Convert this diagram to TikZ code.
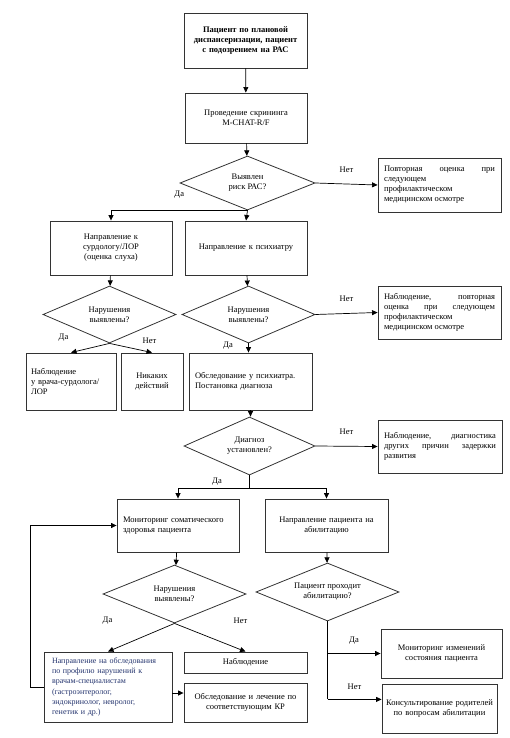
\documentclass[tikz,border=0pt]{standalone}
\usepackage{fontspec}
\setmainfont{Liberation Serif}
\usetikzlibrary{shapes.geometric,arrows.meta,positioning,calc}

\begin{document}
\begin{tikzpicture}[x=1pt,y=-1pt,
  every node/.style={font=\fontsize{8.5}{10}\selectfont},
  box/.style={rectangle,draw=black!80,line width=0.9pt,inner sep=4pt},
  dia/.style={diamond,aspect=2.5,draw=black!80,line width=0.8pt,inner sep=0pt,align=center},
  arr/.style={-{Triangle[length=5.5pt,width=5pt]},line width=0.7pt},
  ln/.style={line width=0.7pt}
]
  \useasboundingbox (0,0) rectangle (510,738);
  \node[box,minimum width=123pt,minimum height=55pt,text width=112pt,align=center,font=\fontsize{8.5}{10}\selectfont\bfseries] (start) at (245.5,40.5) {Пациент по плановой диспансеризации, пациент с подозрением на РАС};
  \node[box,minimum width=122pt,minimum height=50pt,text width=112pt,align=center] (scr) at (246,118) {Проведение скрининга\\M-CHAT-R/F};
  \node[dia,minimum width=135pt,minimum height=54pt] (d1) at (247.5,183) {Выявлен\\риск РАС?};
  \node[box,minimum width=123pt,minimum height=54pt,text width=111pt,align=justify] (rep1) at (439.5,185) {Повторная оценка при\linebreak следующем\\профилактическом\\медицинском осмотре};
  \node[box,minimum width=122pt,minimum height=54pt,text width=112pt,align=center] (surd) at (111,248) {Направление к\\сурдологу/ЛОР\\(оценка слуха)};
  \node[box,minimum width=122pt,minimum height=54pt,text width=112pt,align=center] (psy) at (246,248) {Направление к психиатру};
  \node[dia,minimum width=133pt,minimum height=57pt] (d2) at (109.5,314.5) {Нарушения\\выявлены?};
  \node[dia,minimum width=133pt,minimum height=57pt] (d3) at (248.5,314.5) {Нарушения\\выявлены?};
  \node[box,minimum width=123pt,minimum height=53pt,text width=111pt,align=justify] (rep2) at (439.5,312.5) {Наблюдение, повторная\linebreak оценка при следующем\linebreak профилактическом\\медицинском осмотре};
  \node[box,minimum width=90pt,minimum height=57pt,text width=80pt,align=left] (obsl) at (71,381.5) {Наблюдение\\у врача-сурдолога/\\ЛОР};
  \node[box,minimum width=62pt,minimum height=57pt,text width=54pt,align=center] (none) at (152,381.5) {Никаких\\действий};
  \node[box,minimum width=123pt,minimum height=57pt,text width=111pt,align=left] (exam) at (250.5,381.5) {Обследование у психиатра.\\Постановка диагноза};
  \node[dia,minimum width=131pt,minimum height=58pt] (d4) at (249.5,446) {Диагноз\\установлен?};
  \node[box,minimum width=124pt,minimum height=53pt,text width=112pt,align=justify] (rep3) at (440,446.5) {Наблюдение, диагностика\linebreak других причин задержки\linebreak развития};
  \node[box,minimum width=122pt,minimum height=53pt,text width=110pt,align=left] (mon) at (178,525.5) {Мониторинг соматического\\здоровья пациента};
  \node[box,minimum width=123pt,minimum height=53pt,text width=113pt,align=center] (abil) at (326.5,525.5) {Направление пациента на\\абилитацию};
  \node[dia,minimum width=143pt,minimum height=58pt] (d5) at (174.5,594) {Нарушения\\выявлены?};
  \node[dia,minimum width=143pt,minimum height=58pt] (d6) at (327.5,592) {Пациент проходит\\абилитацию?};
  \node[box,minimum width=128pt,minimum height=70pt,text width=112pt,inner xsep=8pt,align=left,text={rgb,255:red,36;green,52;blue,110},font=\fontsize{8}{10.3}\selectfont] (spec) at (108,687) {Направление на обследования\\по профилю нарушений к\\врачам-специалистам\\(гастроэнтеролог,\\эндокринолог, невролог,\\генетик и др.)};
  \node[box,minimum width=123pt,minimum height=21pt,text width=113pt,align=center] (nabl) at (245.5,662.5) {Наблюдение};
  \node[box,minimum width=123pt,minimum height=39pt,text width=113pt,align=center] (treat) at (245.5,702.5) {Обследование и лечение по\\соответствующим КР};
  \node[box,minimum width=121pt,minimum height=49pt,text width=111pt,align=center] (mi) at (441.5,653.5) {Мониторинг изменений\\состояния пациента};
  \node[box,minimum width=113pt,minimum height=49pt,text width=115pt,inner sep=0pt,align=center] (cons) at (439.5,708.5) {Консультирование родителей\\по вопросам абилитации};

  \draw[arr] (start)--(scr);
  \draw[arr] (scr)--(d1);
  \draw[arr] (d1.east)--node[above=8pt]{Нет}(rep1.west);
  \draw[arr] (d1.south)--(psy.north);
  \draw[arr] (d1.south)-|node[pos=0.25,above=8pt]{Да}(surd.north);
  \draw[arr] (surd)--(d2);
  \draw[arr] (psy)--(d3);
  \draw[arr] (d3.east)--node[above=8pt]{Нет}(rep2.west);
  \draw[arr] (d2.south)--node[pos=0,xshift=-46pt,yshift=6pt]{Да}(obsl.north);
  \draw[arr] (d2.south)--node[pos=0,xshift=40pt,yshift=3pt]{Нет}(none.north);
  \draw[arr] (d3.south)--node[pos=0.2,left=12pt]{Да}(d3.south |- exam.north);
  \draw[arr] (exam.south)--(exam.south |- d4.north);
  \draw[arr] (d4.east)--node[above=8pt]{Нет}(rep3.west);
  \coordinate (split) at ($(d4.south)+(0,13)$);
  \draw[ln] (d4.south)--node[left=24pt]{Да}(split);
  \draw[arr] (split)-|(mon.north);
  \draw[arr] (split)-|(abil.north);
  \draw[arr] (mon)--(d5);
  \draw[arr] (abil)--(d6);
  \draw[arr] (d5.south)--node[pos=0,xshift=-67pt,yshift=3pt]{Да}(spec.north);
  \draw[arr] (d5.south)--node[pos=0,xshift=66pt,yshift=3pt]{Нет}(nabl.north);
  \draw[arr] ([yshift=-6pt]spec.east)--([yshift=-6pt]spec.east -| treat.west);
  \draw[arr] (spec.west)--++(-13,0)|-(mon.west);
  \coordinate (bend) at ($(d6.south)+(0,78)$);
  \draw[ln] (d6.south)--(bend);
  \draw[arr] (d6.south |- mi.west)--node[above=6pt]{Да}(mi.west);
  \draw[arr] (bend)--node[above=6pt]{Нет}(bend -| cons.west);
\end{tikzpicture}
\end{document}
